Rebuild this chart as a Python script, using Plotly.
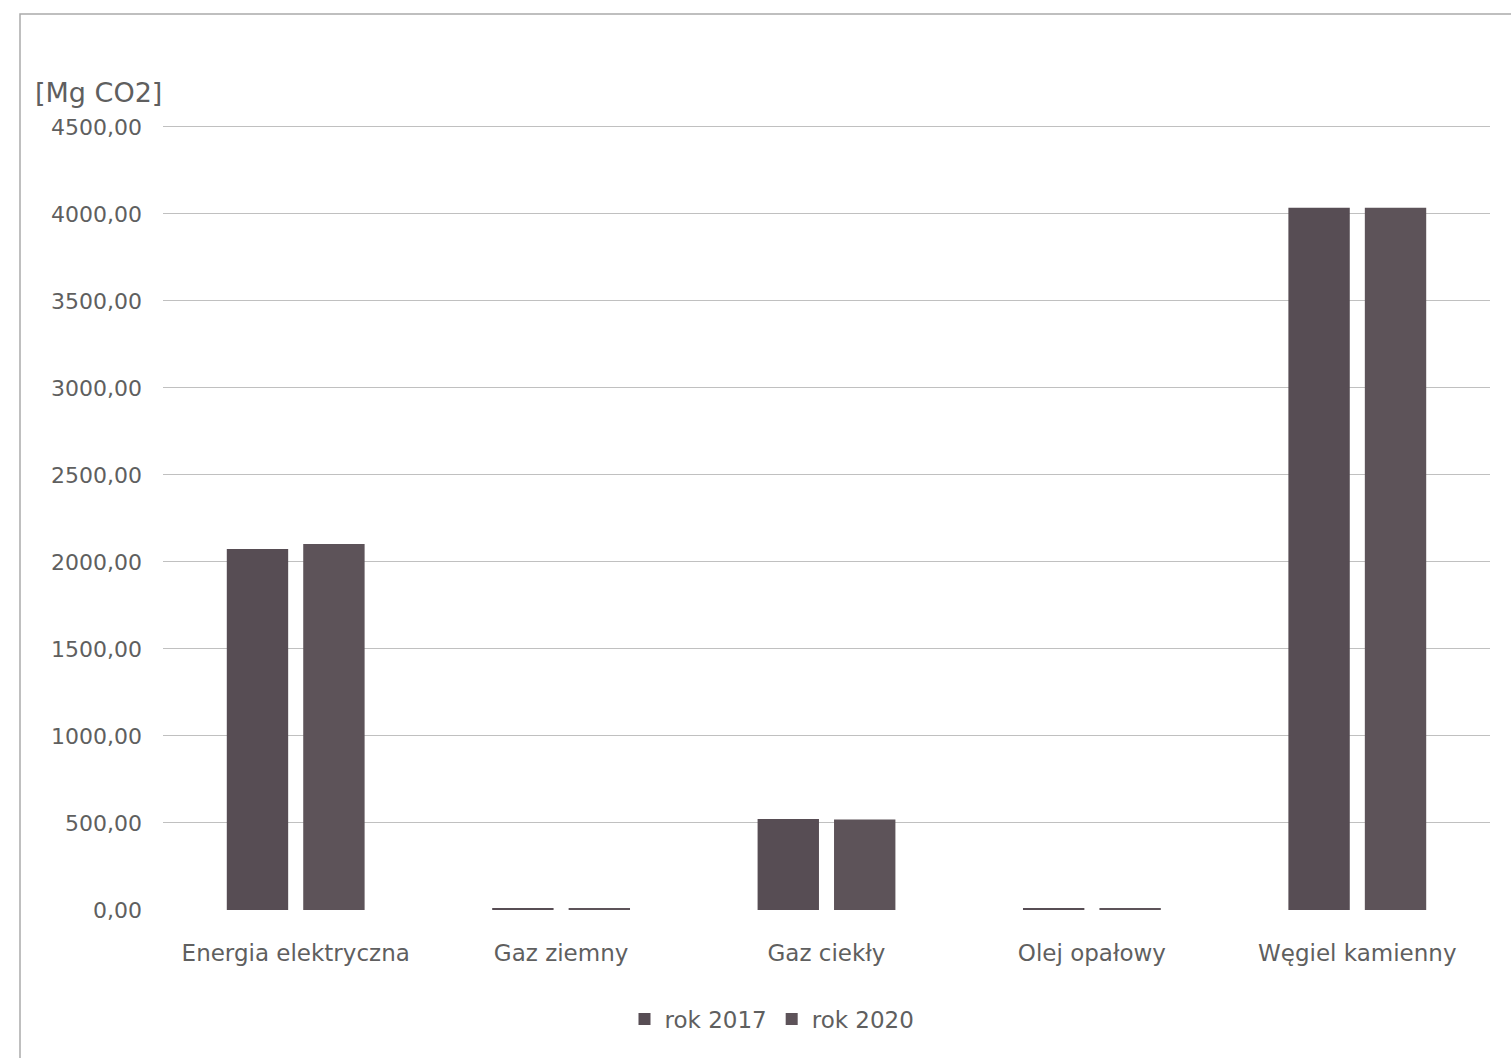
import plotly.graph_objects as go

categories = ["Energia elektryczna", "Gaz ziemny", "Gaz ciekły", "Olej opałowy", "Węgiel kamienny"]
rok_2017 = [2075, 10, 523, 8, 4035]
rok_2020 = [2103, 10, 520, 8, 4035]
tick_vals = [0, 500, 1000, 1500, 2000, 2500, 3000, 3500, 4000, 4500]
tick_text = ["0,00", "500,00", "1000,00", "1500,00", "2000,00", "2500,00", "3000,00", "3500,00", "4000,00", "4500,00"]

W, H = 1511, 1058
L, R, T, B = 163, 21, 125, 148
pw, ph = W - L - R, H - T - B

def px(x):
    return (x - L) / pw

def py(y):
    return (H - B - y) / ph

font = "'DejaVu Sans', sans-serif"
txt = "#5f5f5f"

fig = go.Figure()
fig.add_trace(go.Bar(name="rok 2017", x=categories, y=rok_2017, marker_color="#574d54", marker_line_width=0))
fig.add_trace(go.Bar(name="rok 2020", x=categories, y=rok_2020, marker_color="#5d5359", marker_line_width=0))

fig.update_layout(
    width=W, height=H,
    margin=dict(l=L, r=R, t=T, b=B),
    paper_bgcolor="white", plot_bgcolor="white",
    barmode="group", bargap=0.424, bargroupgap=0.197,
    font=dict(family=font, size=21, color=txt),
    showlegend=True,
    legend=dict(orientation="h", x=px(772), xanchor="center", y=py(1019), yanchor="middle",
                font=dict(size=23, color=txt), itemwidth=30, traceorder="normal"),
    xaxis=dict(showgrid=False, showline=False, ticks="", ticklabelstandoff=27,
               tickfont=dict(size=23, color=txt)),
    yaxis=dict(range=[0, 4511], tickvals=tick_vals, ticktext=tick_text,
               showgrid=True, gridcolor="#c0c0c0", gridwidth=1, zeroline=False,
               showline=False, ticks="", ticklabelstandoff=20,
               tickfont=dict(size=22, color=txt)),
    shapes=[dict(type="rect", xref="paper", yref="paper",
                 x0=px(20), x1=px(1520), y0=py(1070), y1=py(14),
                 line=dict(color="#aaaaaa", width=1.5), layer="below")],
    annotations=[dict(text="[Mg CO2]", xref="paper", yref="paper", x=px(33), y=py(92),
                      xanchor="left", yanchor="middle", showarrow=False,
                      font=dict(size=27, color=txt, family=font))],
)

fig.write_html("out.html")
